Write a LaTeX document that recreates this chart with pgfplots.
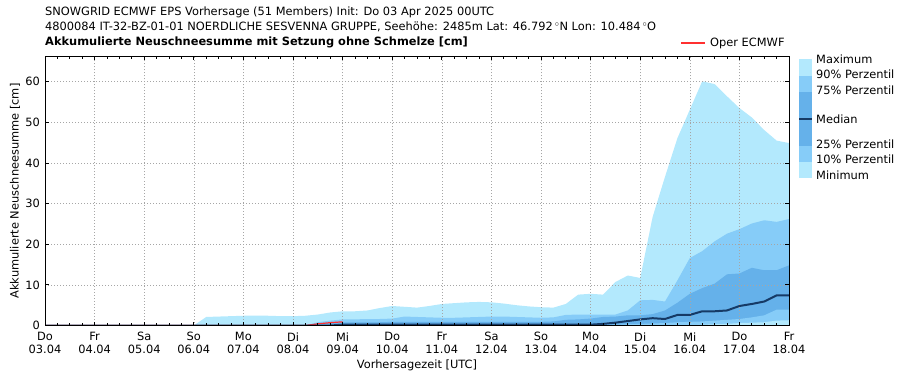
\documentclass[border=0pt]{standalone}
\usepackage{fontspec}
\setmainfont{DejaVu Sans}
\usepackage{pgfplots}
\usepackage{pgfplotstable}
\pgfplotsset{compat=1.18}
\definecolor{cLight}{HTML}{B3E9FD}
\definecolor{cMid}{HTML}{86CCF8}
\definecolor{cDark}{HTML}{65B1EA}
\definecolor{cMed}{HTML}{163A66}
\definecolor{cRed}{HTML}{FF3030}
\pgfplotstableread{
x     mx    p90   p75   med   p25   p10
0     0     0     0     0     0     0
0.25  0     0     0     0     0     0
0.5   0     0     0     0     0     0
0.75  0     0     0     0     0     0
1.0   0     0     0     0     0     0
1.25  0     0     0     0     0     0
1.5   0     0     0     0     0     0
1.75  0     0     0     0     0     0
2.0   0     0     0     0     0     0
2.25  0     0     0     0     0     0
2.5   0     0     0     0     0     0
2.75  0     0     0     0     0     0
3.0   0     0     0     0     0     0
3.25  2.1   0     0     0     0     0
3.5   2.2   0     0     0     0     0
3.75  2.3   0     0     0     0     0
4.0   2.4   0     0     0     0     0
4.25  2.4   0     0     0     0     0
4.5   2.4   0     0     0     0     0
4.75  2.3   0     0     0     0     0
5.0   2.3   0     0     0     0     0
5.25  2.4   0     0     0     0     0
5.5   2.7   0.8   0.5   0     0     0
5.75  3.2   1.2   0.7   0     0     0
6.0   3.5   1.5   0.8   0.2   0     0
6.25  3.5   1.5   0.8   0.2   0     0
6.5   3.7   1.6   0.8   0.2   0     0
6.75  4.3   1.6   0.8   0.2   0     0
7.0   4.8   1.7   0.9   0.2   0     0
7.25  4.6   2.2   0.9   0.2   0     0
7.5   4.4   2.1   0.9   0.2   0     0
7.75  4.8   2.0   0.9   0.2   0     0
8.0   5.3   1.9   0.9   0.2   0     0
8.25  5.5   1.9   0.9   0.2   0     0
8.5   5.7   2.0   0.9   0.2   0     0
8.75  5.8   2.1   0.9   0.2   0     0
9.0   5.7   2.2   0.9   0.2   0     0
9.25  5.4   2.2   0.9   0.2   0     0
9.5   5.0   2.1   0.9   0.2   0     0
9.75  4.7   2.0   0.9   0.2   0     0
10.0  4.5   1.9   0.9   0.2   0     0
10.25 4.4   2.0   1.0   0.2   0     0
10.5  5.3   2.6   1.4   0.2   0     0
10.75 7.6   2.7   1.5   0.2   0     0
11.0  7.8   2.7   1.7   0.2   0.05  0
11.25 7.6   2.7   2.1   0.4   0.1   0
11.5  10.7  2.7   2.2   0.7   0.2   0
11.75 12.3  3.7   2.5   1.1   0.3   0
12.0  11.7  6.2   2.5   1.5   0.4   0
12.25 26.7  6.3   2.8   1.8   0.5   0
12.5  36.6  5.9   3.7   1.6   0.6   0
12.75 46.1  11.1  5.6   2.6   0.8   0
13.0  53.1  16.6  7.8   2.6   0.9   0
13.25 60.1  18.3  9.2   3.5   1.0   0.2
13.5  59.4  20.7  10.3  3.5   1.2   0.3
13.75 56.4  22.6  12.6  3.7   1.4   0.4
14.0  53.5  23.7  12.8  4.8   1.6   0.6
14.25 51.2  25.1  14.2  5.3   2.0   0.7
14.5  48.1  25.9  13.6  5.9   2.5   0.8
14.75 45.5  25.5  13.6  7.4   3.9   1.2
15.0  44.9  26.2  14.8  7.4   3.9   1.3
}\datatable
\begin{document}
\fontsize{11.4bp}{12.4bp}\selectfont
\begin{tikzpicture}[x=1bp,y=1bp]
\path[use as bounding box] (0,0) rectangle (903,380);
\begin{axis}[
  at={(45bp,54.5bp)}, anchor=south west,
  width=744bp, height=269bp, scale only axis,
  xmin=0, xmax=15, ymin=0, ymax=66.2,
  axis on top,
  axis line style={line width=0.8bp},
  xtick={0,...,15},
  xticklabels={{Do\\03.04},{Fr\\04.04},{Sa\\05.04},{So\\06.04},{Mo\\07.04},{Di\\08.04},{Mi\\09.04},{Do\\10.04},{Fr\\11.04},{Sa\\12.04},{So\\13.04},{Mo\\14.04},{Di\\15.04},{Mi\\16.04},{Do\\17.04},{Fr\\18.04}},
  minor x tick num=3,
  ytick={0,10,...,60},
  grid=major,
  grid style={gray!70, line width=0.6bp, dash pattern=on 1bp off 2bp},
  tick align=inside, tick pos=both,
  major tick length=4bp, minor tick length=3bp,
  tick style={black, line width=0.8bp},
  ticklabel style={font=\fontsize{11.4bp}{12.2bp}\selectfont},
  xticklabel style={align=center, yshift=-3bp},
  yticklabel style={xshift=-1bp},
  /pgf/number format/assume math mode=true,
]
\addplot[fill=cLight, draw=none] table[x=x,y=mx]{\datatable} \closedcycle;
\addplot[fill=cMid, draw=none] table[x=x,y=p90]{\datatable} \closedcycle;
\addplot[fill=cDark, draw=none] table[x=x,y=p75]{\datatable} \closedcycle;
\addplot[fill=cMid, draw=none] table[x=x,y=p25]{\datatable} \closedcycle;
\addplot[fill=cLight, draw=none] table[x=x,y=p10]{\datatable} \closedcycle;
\addplot[cRed, line width=1.2bp] coordinates {(0,0) (5.25,0) (5.5,0.4) (5.75,0.7) (6.0,0.9)};
\addplot[cMed, line width=2bp] table[x=x,y=med]{\datatable};
\end{axis}
% titles
\node[anchor=west, inner sep=0pt] at (45,368) {SNOWGRID ECMWF EPS Vorhersage (51 Members) Init: Do 03 Apr 2025 00UTC};
\node[anchor=west, inner sep=0pt] at (45,353.5) {4800084 IT-32-BZ-01-01 NOERDLICHE SESVENNA GRUPPE, Seehöhe: 2485m Lat: 46.792\,$^\circ$N Lon: 10.484\,$^\circ$O};
\node[anchor=west, inner sep=0pt, font=\bfseries] at (45,337.5) {Akkumulierte Neuschneesumme mit Setzung ohne Schmelze [cm]};
% oper legend
\draw[cRed, line width=1.2bp] (681,337) -- (705,337);
\node[anchor=west, inner sep=0pt] at (710,336.5) {Oper ECMWF};
% axis labels
\node[inner sep=0pt] at (417,15) {Vorhersagezeit [UTC]};
\node[inner sep=0pt, rotate=90] at (15,189) {Akkumulierte Neuschneesumme [cm]};
% band legend
\fill[cLight] (799,320.7) rectangle (812,304);
\fill[cMid] (799,304) rectangle (812,288.3);
\fill[cDark] (799,288.3) rectangle (812,234);
\fill[cMid] (799,234) rectangle (812,218.3);
\fill[cLight] (799,218.3) rectangle (812,202.3);
\draw[cMed, line width=2bp] (799,261.3) -- (812,261.3);
\begin{scope}[every node/.style={anchor=west, inner sep=0pt, text height=8bp, text depth=2bp}]
\node at (816,320) {Maximum};
\node at (816,304.3) {90\% Perzentil};
\node at (816,288.3) {75\% Perzentil};
\node at (816,260) {Median};
\node at (816,235) {25\% Perzentil};
\node at (816,219.3) {10\% Perzentil};
\node at (816,203.3) {Minimum};
\end{scope}
\end{tikzpicture}
\end{document}
